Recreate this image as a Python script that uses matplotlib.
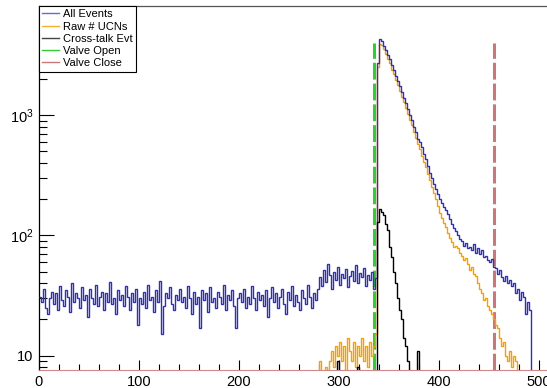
import numpy as np
import matplotlib
matplotlib.use("Agg")
import matplotlib.pyplot as plt
from matplotlib.ticker import FixedLocator, FixedFormatter, MultipleLocator
from matplotlib.lines import Line2D

plt.rcParams['font.family'] = ['Liberation Sans', 'DejaVu Sans']

# 2-unit bins from 0 to 500
bin_edges = np.arange(0, 502, 2)

# All Events (blue)
all_base = [31, 28, 36, 25, 22, 30, 34, 27, 33, 24,
            38, 29, 26, 35, 31, 23, 40, 28, 33, 30,
            25, 37, 29, 32, 21, 36, 30, 27, 39, 26,
            31, 34, 24, 33, 28, 41, 27, 30, 22, 35,
            29, 32, 26, 38, 31, 24, 33, 28, 36, 18,
            30, 27, 34, 25, 39, 29, 31, 23, 35, 28,
            42, 15, 26, 33, 30, 37, 27, 24, 32, 29,
            36, 28, 31, 25, 38, 30, 22, 34, 27, 31,
            17, 35, 29, 33, 23, 37, 28, 30, 25, 34,
            31, 27, 39, 24, 32, 29, 35, 26, 17, 30,
            33, 28, 36, 25, 31, 27, 38, 30, 24, 34,
            29, 32, 26, 35, 21, 30, 37, 28, 33, 25,
            31, 36, 27, 22, 34, 29, 38, 26, 32, 28,
            24, 35, 30, 27, 39, 31, 25, 33, 29, 36]
all_rise = [45, 38, 52, 41, 58, 47, 36, 50, 43, 55,
            39, 48, 44, 53, 37, 46, 51, 42, 57, 40,
            49, 45, 54, 38, 47, 43, 50, 36, 44]
all_peak = [2700, 4300, 4150, 3800, 3500, 3200, 2920, 2600, 2380, 2120,
            1930, 1740, 1560, 1400, 1270, 1130, 1010, 910, 800, 720,
            640, 600, 540, 480, 430, 380, 330, 300, 270, 245,
            220, 200, 185, 172, 162, 150, 138, 125, 116, 108,
            100, 94, 90, 82, 86, 78, 80, 75, 85, 72,
            78, 70, 75, 66, 68, 62, 60, 64, 55, 54,
            48, 52, 45, 42, 46, 40, 43, 38, 40, 33,
            36, 29, 34, 31, 22, 28, 24, 0, 0, 0,
            0]
all_events = all_base + all_rise + all_peak

# Raw # UCNs (orange)
raw_pre = [0] * 140
raw_rise = [9, 0, 0, 8, 0, 9, 11, 8, 12, 10,
            13, 9, 12, 0, 14, 11, 9, 13, 8, 12,
            10, 14, 9, 12, 8, 13, 10, 12, 15]
raw_peak = [2500, 3950, 3850, 3550, 3250, 2950, 2700, 2400, 2200, 1950,
            1780, 1600, 1430, 1280, 1160, 1030, 920, 830, 730, 650,
            580, 520, 460, 410, 370, 325, 290, 255, 225, 200,
            175, 155, 140, 128, 118, 105, 96, 88, 80, 82,
            78, 72, 68, 62, 65, 58, 52, 55, 48, 46,
            40, 36, 33, 29, 30, 26, 24, 22, 20, 18,
            17, 14, 12, 13, 10, 9, 11, 8, 10, 9,
            0, 0, 0, 0, 0, 0, 0, 0, 0, 0,
            0]
raw_ucns = raw_pre + raw_rise + raw_peak

# Cross-talk Evt (black), bin start -> count
xtalk_pts = {298: 9, 318: 8, 338: 130, 340: 165, 342: 158, 344: 148,
             346: 125, 348: 110, 350: 80, 352: 66, 354: 50, 356: 40,
             358: 30, 360: 24, 362: 20, 364: 14, 366: 12, 368: 9, 378: 11}
xtalk = [0] * 250
for k, v in xtalk_pts.items():
    xtalk[k // 2] = v

valve_open = 335
valve_close = 455
valve_top = 4000

y_min, y_max = 7.67, 8110
x_max = 508

fig = plt.figure(figsize=(5.47, 3.88), dpi=100)
ax = fig.add_axes([39 / 547, 18.5 / 388, 508 / 547, 363.5 / 388])

def clean(v):
    v = np.asarray(v, dtype=float)
    return np.where(v > 0, v, 1e-3)

ax.plot([valve_open, valve_open], [y_min, valve_top], color='#33cc33',
        lw=2.2, dashes=(5.5, 1.3), zorder=1)
ax.plot([valve_close, valve_close], [y_min, valve_top], color='#c87878',
        lw=2.2, dashes=(5.5, 1.3), zorder=1)

ax.stairs(clean(raw_ucns), bin_edges, baseline=None, color='#f5a000', lw=1.0, zorder=2)
ax.stairs(clean(all_events), bin_edges, baseline=None, color='#3030b0', lw=1.0, zorder=3)
ax.stairs(clean(xtalk), bin_edges, baseline=None, color='black', lw=1.0, zorder=4)

ax.set_yscale('log')
ax.set_xlim(0, x_max)
ax.set_ylim(y_min, y_max)

ax.xaxis.set_major_locator(MultipleLocator(100))
ax.xaxis.set_minor_locator(MultipleLocator(20))
ax.yaxis.set_major_locator(FixedLocator([10, 100, 1000]))
ax.yaxis.set_major_formatter(FixedFormatter(['10', r'$\mathdefault{10^{2}}$', r'$\mathdefault{10^{3}}$']))
minor = [m * 10 ** e for e in range(0, 4) for m in range(2, 10)]
ax.yaxis.set_minor_locator(FixedLocator(minor))
ax.yaxis.set_minor_formatter(FixedFormatter([''] * len(minor)))

ax.tick_params(axis='both', which='both', direction='in', labelsize=10.5)
ax.tick_params(axis='y', which='major', length=11, width=0.8, pad=4)
ax.tick_params(axis='y', which='minor', length=6, width=0.8)
ax.tick_params(axis='x', which='major', length=7.5, width=0.8, pad=4)
ax.tick_params(axis='x', which='minor', length=4, width=0.8)

ax.spines['right'].set_visible(False)
ax.spines['bottom'].set_color('#d08888')
ax.spines['left'].set_linewidth(0.9)
ax.spines['top'].set_linewidth(0.9)
ax.spines['top'].set_color('#555555')

handles = [Line2D([], [], color='#6a6ad0', lw=1),
           Line2D([], [], color='#f5b030', lw=1),
           Line2D([], [], color='#444444', lw=1),
           Line2D([], [], color='#33cc33', lw=1),
           Line2D([], [], color='#c87878', lw=1)]
labels = ['All Events', 'Raw # UCNs', 'Cross-talk Evt', 'Valve Open', 'Valve Close']
leg = ax.legend(handles, labels, loc='upper left', bbox_to_anchor=(0, 1),
                borderaxespad=0, fancybox=False, framealpha=1, edgecolor='black',
                fontsize=8, handlelength=1.5, handletextpad=0.35,
                labelspacing=0.2, borderpad=0.3)
leg.get_frame().set_linewidth(0.8)

fig.savefig('out.png', dpi=100)
